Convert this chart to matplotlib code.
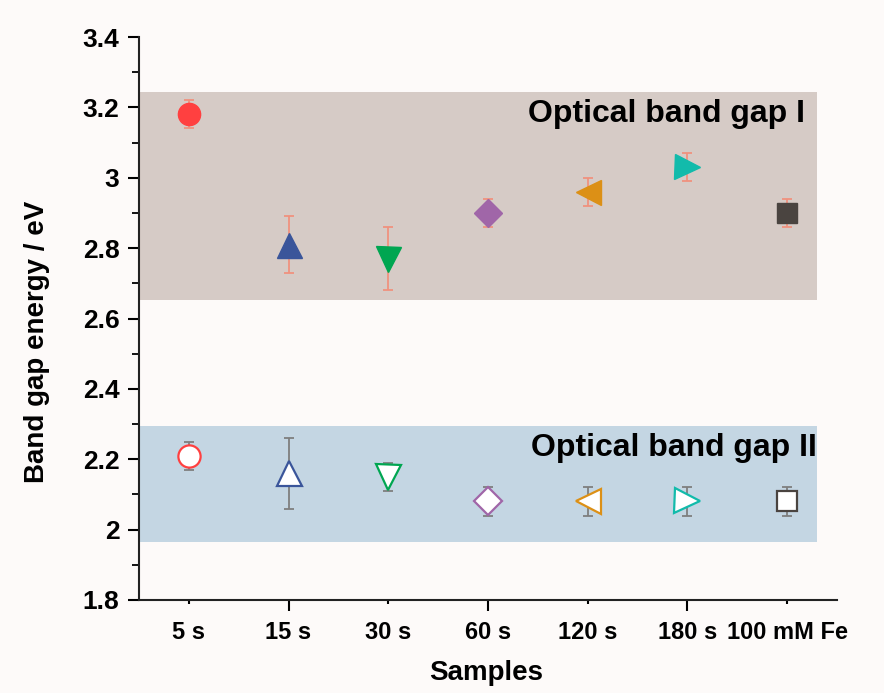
import matplotlib

matplotlib.use("Agg")
import matplotlib.pyplot as plt
from matplotlib.ticker import MultipleLocator

samples = ["5 s", "15 s", "30 s", "60 s", "120 s", "180 s", "100 mM Fe"]
gap1 = [3.18, 2.81, 2.77, 2.90, 2.96, 3.03, 2.90]
gap1_err = [0.04, 0.08, 0.09, 0.04, 0.04, 0.04, 0.04]
gap2 = [2.21, 2.16, 2.15, 2.08, 2.08, 2.08, 2.08]
gap2_err = [0.04, 0.10, 0.04, 0.04, 0.04, 0.04, 0.04]
band1_range = (2.653, 3.243)
band2_range = (1.966, 2.295)

markers = ["o", "^", "v", "D", "<", ">", "s"]
colors = ["#ff4040", "#3a559a", "#00a651", "#a066a8", "#dc9016", "#12bbab", "#4a4440"]
sizes = [16, 18, 18, 14, 18, 18, 15]

plt.rcParams["font.family"] = ["Liberation Sans", "DejaVu Sans"]
plt.rcParams["font.weight"] = "bold"

fig = plt.figure(figsize=(8.84, 6.93), dpi=100, facecolor="#fdfaf9")
ax = fig.add_axes([0.1572, 0.1342, 0.7896, 0.8124])
ax.set_facecolor("#fdfaf9")

x = list(range(1, len(samples) + 1))
ax.fill_between([0.5, 7.3], band1_range[0], band1_range[1], color="#d6cbc6", lw=0, zorder=0)
ax.fill_between([0.5, 7.3], band2_range[0], band2_range[1], color="#c4d6e3", lw=0, zorder=0)

for i in range(len(samples)):
    ax.errorbar(x[i], gap1[i], yerr=gap1_err[i], fmt="none", ecolor="#f0927e",
                elinewidth=1.3, capsize=3.6, capthick=1.3, zorder=2)
    ax.plot(x[i], gap1[i], marker=markers[i], ms=sizes[i], color=colors[i],
            mec=colors[i], ls="none", zorder=3)
    ax.errorbar(x[i], gap2[i], yerr=gap2_err[i], fmt="none", ecolor="#7f7f7f",
                elinewidth=1.3, capsize=3.6, capthick=1.3, zorder=2)
    ax.plot(x[i], gap2[i], marker=markers[i], ms=sizes[i], mfc="white",
            mec=colors[i], mew=1.6, ls="none", zorder=3)

ax.text(7.184, 3.18, "Optical band gap I", ha="right", va="center", fontsize=23, weight="bold")
ax.text(7.294, 2.232, "Optical band gap II", ha="right", va="center", fontsize=23, weight="bold")

ax.set_xlim(0.5, 7.5)
ax.set_ylim(1.8, 3.4)
ax.set_xticks(x)
ax.set_xticklabels(samples, fontsize=17, weight="bold")
ax.set_yticks([1.8, 2.0, 2.2, 2.4, 2.6, 2.8, 3.0, 3.2, 3.4])
ax.set_yticklabels(["1.8", "2", "2.2", "2.4", "2.6", "2.8", "3", "3.2", "3.4"],
                   fontsize=19, weight="bold")
ax.yaxis.set_minor_locator(MultipleLocator(0.1))
ax.tick_params(axis="y", which="major", direction="out", length=8, width=1.5, pad=6)
ax.tick_params(axis="y", which="minor", direction="out", length=5, width=1.3)
ax.tick_params(axis="x", which="major", direction="out", length=3, width=1.5, pad=12)
# Origin-style alternating tick lengths on the category axis
for k, tick in enumerate(ax.xaxis.get_major_ticks()):
    if k % 2 == 1:
        tick.tick1line.set_markersize(8)

for side in ["top", "right"]:
    ax.spines[side].set_visible(False)
for side in ["left", "bottom"]:
    ax.spines[side].set_linewidth(1.5)
    ax.spines[side].set_color("#222222")

fig.text(486 / 884, 1 - 673 / 693, "Samples", ha="center", va="center",
         fontsize=20, weight="bold")
fig.text(37 / 884, 1 - 342 / 693, "Band gap energy / eV", ha="center", va="center",
         rotation=90, fontsize=20, weight="bold")

fig.savefig("out.png", dpi=100, facecolor=fig.get_facecolor())
